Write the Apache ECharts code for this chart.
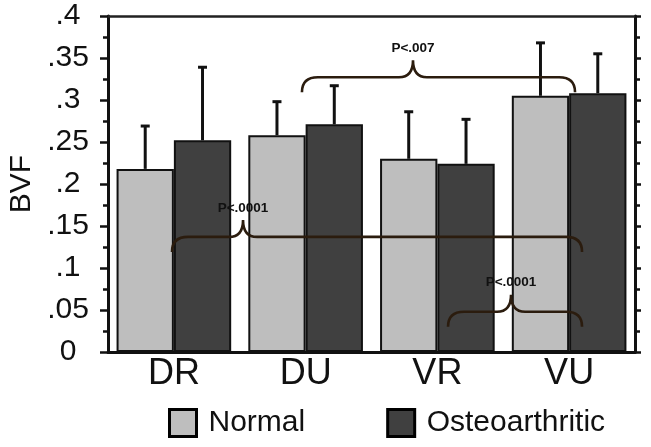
<!DOCTYPE html>
<html>
<head>
<meta charset="utf-8">
<script src="https://cdn.jsdelivr.net/npm/echarts@6/dist/echarts.min.js"></script>
<style>html,body{margin:0;padding:0;background:#fff}#c{width:651px;height:447px}</style>
</head>
<body>
<div id="c"></div>
<script>
const categories = ['DR', 'DU', 'VR', 'VU'];
const seriesNames = ['Normal', 'Osteoarthritic'];
const normalMean = [0.218, 0.258, 0.230, 0.305];
const normalUpper = [0.269, 0.298, 0.286, 0.368];
const oaMean = [0.252, 0.271, 0.224, 0.308];
const oaUpper = [0.339, 0.317, 0.277, 0.355];
const yTickLabels = ['0', '.05', '.1', '.15', '.2', '.25', '.3', '.35', '.4'];
// braces (category-unit x positions, value-unit level)
const braceStart = [0.972, -0.014, 2.081];
const braceEnd = [3.045, 3.098, 3.098];
const braceMid = [1.815, 0.525, 2.559];
const braceLevel = [0.327, 0.137, 0.048];
const braceLabels = ['P<.007', 'P<.0001', 'P<.0001'];

const FONT = 'Arial, "Liberation Sans", Helvetica, sans-serif';
const BAR_FRAC = 0.435;
const chart = echarts.init(document.getElementById('c'), null, {renderer: 'canvas'});

function errRender(offsetSign) {
  return function (params, api) {
    const idx = api.value(0);
    const pTop = api.coord([idx, api.value(1)]);
    const pBar = api.coord([idx, api.value(2)]);
    const bw = api.size([1, 0])[0] * BAR_FRAC;
    const x = pTop[0] + offsetSign * bw / 2;
    const cap = 4.5;
    return {
      type: 'group',
      children: [
        {type: 'line', shape: {x1: x, y1: pBar[1], x2: x, y2: pTop[1]}, style: {stroke: '#111', lineWidth: 3}},
        {type: 'line', shape: {x1: x - cap, y1: pTop[1], x2: x + cap, y2: pTop[1]}, style: {stroke: '#111', lineWidth: 3}}
      ]
    };
  };
}

function braceRender(params, api) {
  const pl = api.coord([api.value(0), api.value(3)]);
  const pr = api.coord([api.value(1), api.value(3)]);
  const pm = api.coord([api.value(2), api.value(3)]);
  const xl = pl[0], xr = pr[0], xm = pm[0], y = pl[1];
  const d = 15, t = 17, r = 16, rt = 14;
  const path =
    'M' + xl + ',' + (y + d) +
    ' C' + xl + ',' + (y + 4) + ' ' + (xl + r * 0.4) + ',' + y + ' ' + (xl + r) + ',' + y +
    ' L' + (xm - rt) + ',' + y +
    ' C' + (xm - 4) + ',' + y + ' ' + xm + ',' + (y - 6) + ' ' + xm + ',' + (y - t) +
    ' C' + xm + ',' + (y - 6) + ' ' + (xm + 4) + ',' + y + ' ' + (xm + rt) + ',' + y +
    ' L' + (xr - r) + ',' + y +
    ' C' + (xr - r * 0.4) + ',' + y + ' ' + xr + ',' + (y + 4) + ' ' + xr + ',' + (y + d);
  return {
    type: 'group',
    children: [
      {type: 'path', shape: {pathData: path}, style: {fill: null, stroke: '#2b1c0e', lineWidth: 2.6}},
      {type: 'text', x: xm, y: y - t - 12, style: {text: braceLabels[params.dataIndex], fill: '#111', font: 'bold 13.5px ' + FONT, textAlign: 'center', textVerticalAlign: 'middle'}}
    ]
  };
}

const option = {
  animation: false,
  backgroundColor: '#fff',
  grid: {left: 108, right: 16, top: 16, bottom: 95, containLabel: false, outerBoundsMode: 'none'},
  legend: {
    data: seriesNames,
    left: 168, top: 408, padding: 0,
    itemWidth: 27, itemHeight: 27, itemGap: 81,
    icon: 'rect',
    itemStyle: {borderWidth: 3, borderColor: '#000'},
    textStyle: {fontFamily: FONT, fontSize: 30, color: '#111', padding: [0, 0, 0, 7]}
  },
  xAxis: [
    {
      type: 'category', data: categories,
      axisLine: {onZero: false, lineStyle: {color: '#111', width: 3}},
      axisTick: {alignWithLabel: true, inside: false, length: 6, lineStyle: {color: '#111', width: 2}},
      axisLabel: {fontFamily: FONT, fontSize: 36, color: '#111', margin: 4},
      splitLine: {show: false}
    },
    {
      type: 'value', min: -0.5, max: 3.5, position: 'top',
      axisLine: {show: true, onZero: false, lineStyle: {color: '#222', width: 2.5}},
      axisTick: {show: false}, axisLabel: {show: false}, splitLine: {show: false}
    }
  ],
  yAxis: [
    {
      type: 'value', min: 0, max: 0.4, interval: 0.05,
      name: 'BVF', nameLocation: 'middle', nameGap: 54,
      nameTextStyle: {fontFamily: FONT, fontSize: 30, color: '#111'},
      axisLine: {show: true, onZero: false, lineStyle: {color: '#111', width: 3}},
      axisTick: {show: true, inside: false, length: 8, lineStyle: {color: '#111', width: 2.5}},
      minorTick: {show: true, splitNumber: 2, length: 5, lineStyle: {color: '#111', width: 2.5}},
      axisLabel: {fontFamily: FONT, fontSize: 30, color: '#111', margin: 40, align: 'center',
        formatter: function (v, i) { return yTickLabels[i]; }},
      splitLine: {show: false}
    },
    {
      type: 'value', min: 0, max: 0.4, interval: 0.05, position: 'right',
      axisLine: {show: true, onZero: false, lineStyle: {color: '#111', width: 3}},
      axisTick: {show: true, inside: false, length: 6, lineStyle: {color: '#111', width: 2.5}},
      minorTick: {show: true, splitNumber: 2, length: 5, lineStyle: {color: '#111', width: 2.5}},
      axisLabel: {show: false},
      splitLine: {show: false}
    }
  ],
  series: [
    {
      name: seriesNames[0], type: 'bar', data: normalMean,
      barWidth: (BAR_FRAC * 100) + '%', barGap: '0%',
      itemStyle: {color: '#bebebe', borderColor: '#111', borderWidth: 2}
    },
    {
      name: seriesNames[1], type: 'bar', data: oaMean,
      barWidth: (BAR_FRAC * 100) + '%', barGap: '0%',
      itemStyle: {color: '#404040', borderColor: '#111', borderWidth: 2}
    },
    {
      type: 'custom', renderItem: errRender(-1), z: 5,
      data: categories.map((c, i) => [i, normalUpper[i], normalMean[i]])
    },
    {
      type: 'custom', renderItem: errRender(1), z: 5,
      data: categories.map((c, i) => [i, oaUpper[i], oaMean[i]])
    },
    {
      type: 'custom', renderItem: braceRender, xAxisIndex: 1, z: 10,
      data: braceStart.map((s, i) => [s, braceEnd[i], braceMid[i], braceLevel[i]])
    }
  ]
};
chart.setOption(option);
</script>
</body>
</html>
